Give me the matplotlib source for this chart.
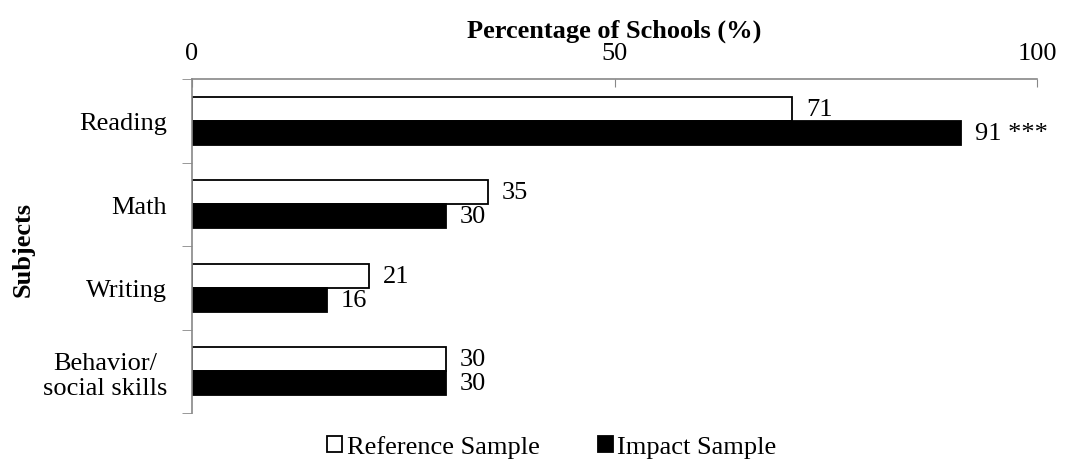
import matplotlib
matplotlib.use("Agg")
import matplotlib.pyplot as plt
import numpy as np

categories = ["Reading", "Math", "Writing", "Behavior/\nsocial skills"]
reference_sample = [71, 35, 21, 30]
impact_sample = [91, 30, 16, 30]
impact_labels = ["91 ***", "30", "16", "30"]
reference_labels = ["71", "35", "21", "30"]
x_ticks = [0, 50, 100]

plt.rcParams['font.family'] = ['Liberation Serif', 'DejaVu Serif']
FS = 19

fig = plt.figure(figsize=(10.65, 4.6), dpi=100)
ax = fig.add_axes([0.1803, 0.1, 0.7934, 0.726])

y = np.arange(len(categories))
h = 0.286
ax.barh(y - h/2, reference_sample, height=h, color="white", edgecolor="black", linewidth=1.3, label="Reference Sample")
ax.barh(y + h/2, impact_sample, height=h, color="black", edgecolor="black", linewidth=1.3, label="Impact Sample")

for i in range(len(categories)):
    ax.annotate(reference_labels[i], (reference_sample[i], y[i] - h/2), xytext=(10, 0),
                textcoords="offset points", va="center", ha="left", fontsize=FS)
    ax.annotate(impact_labels[i], (impact_sample[i], y[i] + h/2), xytext=(10, 0),
                textcoords="offset points", va="center", ha="left", fontsize=FS)

ax.set_xlim(0, 100)
ax.set_ylim(len(categories) - 0.5, -0.5)
ax.xaxis.tick_top()
ax.xaxis.set_label_position("top")
ax.set_xticks(x_ticks)
ax.set_xticklabels([str(t) for t in x_ticks], fontsize=FS)
ax.tick_params(axis="x", direction="in", length=6, color="#888888", pad=11)

ax.set_yticks(y)
ax.set_yticklabels(categories, fontsize=FS, ha="right", multialignment="center")
ax.tick_params(axis="y", length=0, pad=18)
ax.set_yticks(np.arange(-0.5, len(categories), 1.0), minor=True)
ax.tick_params(axis="y", which="minor", length=7, color="#888888", direction="out")

for s in ["right", "bottom"]:
    ax.spines[s].set_visible(False)
for s in ["top", "left"]:
    ax.spines[s].set_color("#888888")
    ax.spines[s].set_linewidth(1.2)

ax.set_xlabel("Percentage of Schools (%)", fontsize=FS, fontweight="bold", labelpad=4)
fig.text(0.022, 0.457, "Subjects", rotation=90, fontsize=FS, fontweight="bold", va="center", ha="center")

leg = fig.legend(loc="lower center", bbox_to_anchor=(0.518, -0.05), ncol=2, frameon=False,
                 fontsize=FS, handlelength=0.57, handleheight=0.57, handletextpad=0.18, columnspacing=2.2)

fig.savefig("out.png", dpi=100)
